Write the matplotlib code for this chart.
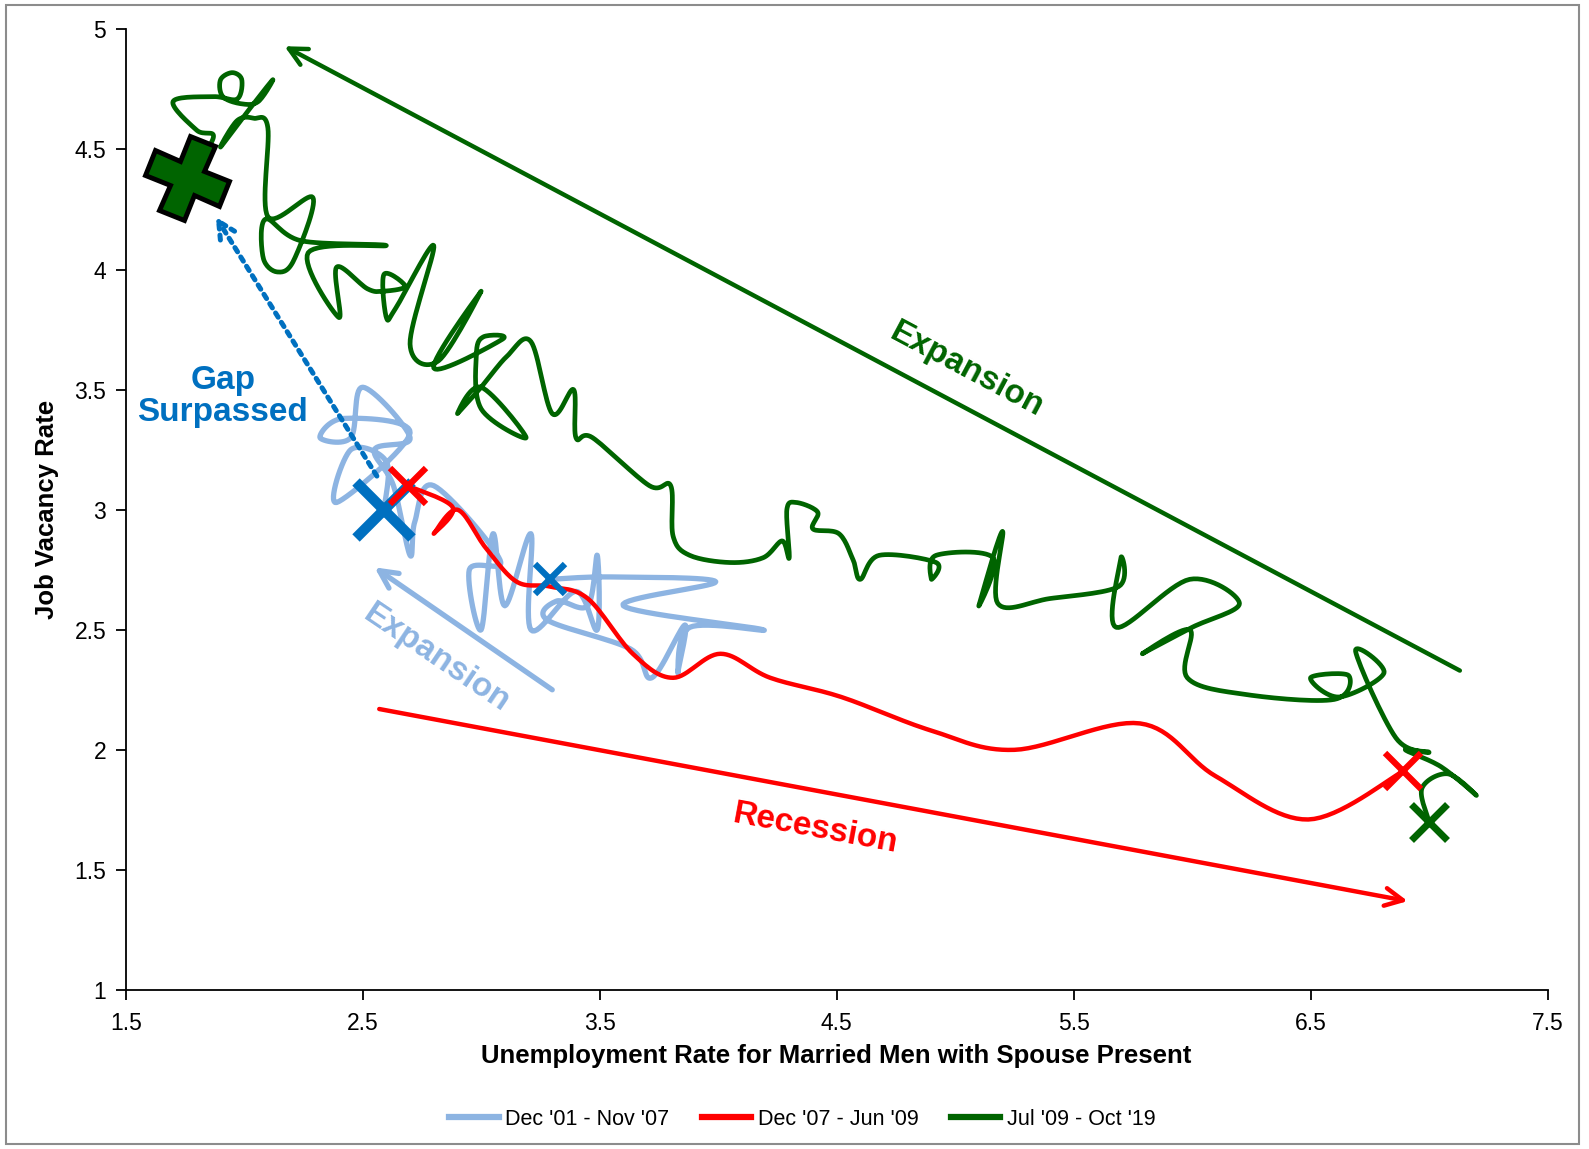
import numpy as np
import matplotlib
matplotlib.use('Agg')
import matplotlib.pyplot as plt
from matplotlib.lines import Line2D
from matplotlib.markers import MarkerStyle
from matplotlib.transforms import Affine2D
from matplotlib.patches import Rectangle

plt.rcParams['font.family'] = ['Liberation Sans', 'DejaVu Sans']

# Dec '01 - Nov '07
blue_u = [3.29, 3.55, 3.99, 3.60, 4.19, 3.88, 3.83, 3.86, 3.72, 3.63, 3.28, 3.32, 3.45,
          3.49, 3.49, 3.40, 3.21, 3.21, 3.10, 3.05, 3.00, 2.95, 3.08, 2.80, 2.72, 2.70,
          2.63, 2.55, 2.70, 2.50, 2.45, 2.32, 2.42, 2.70, 2.39, 2.45, 2.60, 2.59]
blue_v = [2.71, 2.72, 2.70, 2.60, 2.50, 2.51, 2.32, 2.52, 2.30, 2.42, 2.54, 2.62, 2.60,
          2.81, 2.50, 2.66, 2.50, 2.90, 2.60, 2.90, 2.50, 2.75, 2.79, 3.10, 2.95, 2.81,
          3.10, 3.25, 3.30, 3.51, 3.30, 3.30, 3.38, 3.32, 3.03, 3.25, 3.20, 3.00]

# Dec '07 - Jun '09
red_u = [2.69, 2.88, 2.80, 2.90, 3.02, 3.15, 3.29, 3.45, 3.64, 3.81, 4.01, 4.22, 4.52,
         4.90, 5.25, 5.78, 6.10, 6.49, 6.89]
red_v = [3.10, 3.01, 2.90, 3.00, 2.84, 2.70, 2.68, 2.63, 2.40, 2.30, 2.40, 2.30, 2.22,
         2.08, 2.00, 2.11, 1.89, 1.71, 1.91]

# Jul '09 - Oct '19
green_u = [7.00, 6.97, 7.08, 7.20, 7.05, 6.90, 7.00, 6.86, 6.69, 6.81, 6.62, 6.50, 6.66,
           6.60, 6.23, 5.98, 5.99, 5.79, 6.00, 6.20, 5.99, 5.68, 5.70, 5.69, 5.40, 5.18,
           5.20, 5.10, 5.16, 4.92, 4.90, 4.92, 4.68, 4.60, 4.57, 4.51, 4.40, 4.42, 4.33,
           4.29, 4.30, 4.27, 4.19, 4.05, 3.88, 3.81, 3.80, 3.71, 3.47, 3.40, 3.39, 3.30,
           3.21, 3.11, 3.00, 2.90, 3.00, 3.19, 3.00, 2.98, 3.01, 3.09, 2.80, 3.00, 2.82,
           2.70, 2.80, 2.64, 2.60, 2.59, 2.68, 2.59, 2.52, 2.39, 2.40, 2.27, 2.60, 2.24,
           2.09, 2.08, 2.14, 2.21, 2.29, 2.10, 2.10, 2.04, 1.97, 1.90, 2.00, 2.12, 2.06,
           1.99, 1.91, 1.90, 1.95, 1.99, 1.97, 1.87, 1.70, 1.80, 1.87, 1.76]
green_v = [1.70, 1.84, 1.90, 1.81, 1.93, 2.00, 1.99, 2.05, 2.41, 2.32, 2.22, 2.30, 2.31,
           2.21, 2.23, 2.30, 2.50, 2.40, 2.51, 2.61, 2.71, 2.51, 2.80, 2.68, 2.63, 2.61,
           2.91, 2.60, 2.80, 2.81, 2.71, 2.78, 2.81, 2.71, 2.79, 2.90, 2.92, 2.99, 3.03,
           3.00, 2.80, 2.87, 2.80, 2.78, 2.81, 2.89, 3.10, 3.10, 3.30, 3.30, 3.50, 3.40,
           3.70, 3.64, 3.51, 3.40, 3.51, 3.30, 3.42, 3.65, 3.72, 3.71, 3.59, 3.91, 3.62,
           3.69, 4.10, 3.84, 3.80, 3.98, 3.93, 3.91, 3.92, 4.01, 3.80, 4.07, 4.10, 4.12,
           4.21, 4.05, 3.99, 4.04, 4.30, 4.22, 4.59, 4.63, 4.62, 4.51, 4.64, 4.79, 4.70,
           4.69, 4.72, 4.79, 4.82, 4.79, 4.71, 4.72, 4.70, 4.58, 4.55, 4.38]

labels = ["Dec '01 - Nov '07", "Dec '07 - Jun '09", "Jul '09 - Oct '19"]
LBLUE, RED, GREEN, BLUE = '#8DB4E2', '#FF0000', '#006400', '#0070C0'


def smooth(xs, ys, n=16):
    # Excel-style smoothed line (cubic bezier through the points)
    pts = np.column_stack([xs, ys]).astype(float)
    P = np.vstack([pts[0], pts, pts[-1]])
    t = np.linspace(0, 1, n, endpoint=False)[:, None]
    out = []
    for i in range(1, len(P) - 2):
        p0, p1, p2, p3 = P[i - 1], P[i], P[i + 1], P[i + 2]
        c1 = p1 + (p2 - p0) / 6
        c2 = p2 - (p3 - p1) / 6
        out.append((1 - t) ** 3 * p1 + 3 * (1 - t) ** 2 * t * c1 + 3 * (1 - t) * t ** 2 * c2 + t ** 3 * p2)
    out.append(pts[-1:])
    s = np.vstack(out)
    return s[:, 0], s[:, 1]


fig = plt.figure(figsize=(15.89, 11.49), dpi=100)
ax = fig.add_axes([0.0791, 0.1384, 0.8948, 0.8360])

for u, v, c, lw in [(blue_u, blue_v, LBLUE, 3.8), (red_u, red_v, RED, 3.2), (green_u, green_v, GREEN, 3.4)]:
    sx, sy = smooth(u, v)
    ax.plot(sx, sy, color=c, lw=lw, solid_capstyle='round', solid_joinstyle='round', zorder=3)

# start / end markers
ax.plot(blue_u[0], blue_v[0], 'x', color=BLUE, ms=22, mew=4.5, zorder=5)
ax.plot(blue_u[-1], blue_v[-1], 'x', color=BLUE, ms=40, mew=7.5, zorder=5)
ax.plot(red_u[0], red_v[0], 'x', color=RED, ms=26, mew=4.5, zorder=6)
ax.plot(red_u[-1], red_v[-1], 'x', color=RED, ms=26, mew=4.5, zorder=6)
ax.plot(green_u[0], green_v[0], 'x', color=GREEN, ms=26, mew=5, zorder=6)
plus = MarkerStyle('P', transform=Affine2D().rotate_deg(-22))
ax.plot(green_u[-1], green_v[-1], marker=plus, ls='none', ms=58, mfc=GREEN, mec='black', mew=3.5, zorder=6)

# arrows
ax.annotate('', xy=(2.17, 4.93), xytext=(7.13, 2.33),
            arrowprops=dict(arrowstyle='->', color=GREEN, lw=3.2, mutation_scale=32, shrinkA=0, shrinkB=0))
ax.annotate('', xy=(2.55, 2.76), xytext=(3.30, 2.25),
            arrowprops=dict(arrowstyle='->', color=LBLUE, lw=3.8, mutation_scale=32, shrinkA=0, shrinkB=0))
ax.annotate('', xy=(6.91, 1.37), xytext=(2.57, 2.17),
            arrowprops=dict(arrowstyle='->', color=RED, lw=3.2, mutation_scale=32, shrinkA=0, shrinkB=0))
ax.annotate('', xy=(1.88, 4.22), xytext=(2.56, 3.14),
            arrowprops=dict(arrowstyle='->', color=BLUE, lw=3.6, ls=(0, (1, 1.2)),
                            mutation_scale=30, shrinkA=0, shrinkB=0))

tk = dict(fontweight='bold', fontsize=24, ha='center', va='center', rotation_mode='anchor')
ax.text(5.05, 3.58, 'Expansion', color=GREEN, rotation=-28, **tk)
ax.text(2.81, 2.38, 'Expansion', color=LBLUE, rotation=-34, **tk)
ax.text(4.41, 1.67, 'Recession', color=RED, rotation=-10.5, **tk)
ax.text(1.91, 3.47, 'Gap\nSurpassed', color=BLUE, linespacing=1.05, **tk)

ax.set_xlim(1.5, 7.5)
ax.set_ylim(1, 5)
ax.set_xticks(np.arange(1.5, 7.6, 1.0))
ax.set_yticks(np.arange(1, 5.01, 0.5))
ax.set_xticklabels(['1.5', '2.5', '3.5', '4.5', '5.5', '6.5', '7.5'])
ax.set_yticklabels(['1', '1.5', '2', '2.5', '3', '3.5', '4', '4.5', '5'])
for s in ['top', 'right']:
    ax.spines[s].set_visible(False)
for s in ['left', 'bottom']:
    ax.spines[s].set_linewidth(1.3)
ax.tick_params(direction='out', length=7, width=1.3, labelsize=16.5)
ax.tick_params(axis='x', pad=9)
ax.tick_params(axis='y', pad=7)

ax.set_xlabel('Unemployment Rate for Married Men with Spouse Present', fontsize=18.5, fontweight='bold')
ax.set_ylabel('Job Vacancy Rate', fontsize=18.5, fontweight='bold')
ax.xaxis.set_label_coords(0.5, -0.056)
ax.yaxis.set_label_coords(-0.047, 0.5)

handles = [Line2D([], [], color=c, lw=4.5) for c in (LBLUE, RED, GREEN)]
fig.legend(handles, labels, loc='center', bbox_to_anchor=(0.505, 0.026), ncol=3, frameon=False,
           prop={'size': 15.5}, handlelength=2.3, handletextpad=0.3, columnspacing=1.5)

fig.patches.append(Rectangle((0.004, 0.004), 0.99, 0.992, transform=fig.transFigure,
                             fill=False, ec='#8c8c8c', lw=1.5))

fig.savefig('out.png', dpi=100)
